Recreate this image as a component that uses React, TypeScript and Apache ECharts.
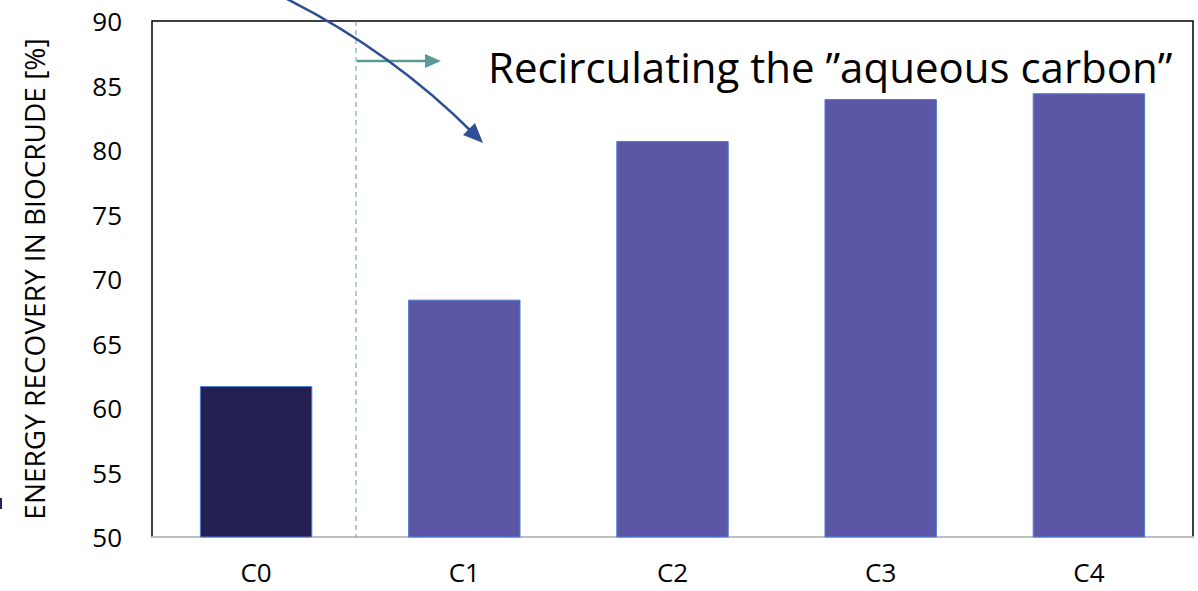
import React, { useEffect, useRef } from "react";
import * as echarts from "echarts";

const categories = ["C0", "C1", "C2", "C3", "C4"];
const values = [61.7, 68.4, 80.7, 83.95, 84.4];
const barColors = ["#231f52", "#5b57a6", "#5b57a6", "#5b57a6", "#5b57a6"];
const yTicks = { min: 50, max: 90, interval: 5 };
const yAxisTitle = "ENERGY RECOVERY IN BIOCRUDE [%]";
const annotation = "Recirculating the \u201daqueous carbon\u201d";

const FONT = "'Open Sans', 'Noto Sans', sans-serif";

export default function App() {
  const ref = useRef<HTMLDivElement>(null);
  useEffect(() => {
    document.body.style.margin = "0";
    const chart = echarts.init(ref.current!, null, { renderer: "svg" });
    chart.setOption({
      animation: false,
      grid: {
        left: 152,
        top: 21,
        right: 5,
        bottom: 54,
        show: true,
        borderColor: "#000",
        borderWidth: 1.5,
        backgroundColor: "transparent",
      },
      xAxis: {
        type: "category",
        data: categories,
        axisLine: { show: true, lineStyle: { color: "#bfbfbf", width: 2 } },
        axisTick: { show: false },
        axisLabel: {
          color: "#000",
          fontSize: 26,
          lineHeight: 26,
          fontFamily: FONT,
          margin: 22,
        },
      },
      yAxis: {
        type: "value",
        min: yTicks.min,
        max: yTicks.max,
        interval: yTicks.interval,
        splitLine: { show: false },
        axisLine: { show: false },
        axisTick: { show: false },
        axisLabel: { color: "#000", fontSize: 26, fontFamily: FONT, margin: 30 },
        name: yAxisTitle,
        nameLocation: "middle",
        nameRotate: 90,
        nameGap: 104,
        nameTextStyle: { color: "#000", fontSize: 28, fontFamily: FONT },
      },
      series: [
        {
          type: "bar",
          barWidth: "54%",
          data: values.map((v, i) => ({
            value: v,
            itemStyle: { color: barColors[i], borderColor: "#4a7fd0", borderWidth: 1 },
          })),
        },
      ],
      graphic: [
        {
          type: "line",
          shape: { x1: 356, y1: 21, x2: 356, y2: 537 },
          style: { stroke: "#5a9a96", lineWidth: 1, lineDash: [5, 4] },
          z: 5,
        },
        {
          type: "line",
          shape: { x1: 357, y1: 61, x2: 428, y2: 61 },
          style: { stroke: "#5a9a96", lineWidth: 2.5 },
          z: 6,
        },
        {
          type: "polygon",
          shape: { points: [[441, 61], [425, 54], [425, 68]] },
          style: { fill: "#5a9a96" },
          z: 6,
        },
        {
          type: "text",
          x: 488,
          y: 66,
          style: {
            text: annotation,
            fill: "#000",
            fontSize: 42,
            fontFamily: FONT,
            verticalAlign: "middle",
          },
          z: 6,
        },
        {
          type: "bezierCurve",
          shape: { x1: 285, y1: -2, cpx1: 391, cpy1: 51, x2: 474, y2: 134 },
          style: { stroke: "#2f4f95", lineWidth: 2.5, fill: "none" },
          z: 7,
        },
        {
          type: "polygon",
          shape: { points: [[483, 143], [463, 135], [475, 123]] },
          style: { fill: "#2f4f95" },
          z: 7,
        },
        {
          type: "rect",
          shape: { x: 0, y: 498, width: 2, height: 11 },
          style: { fill: "#23205a" },
        },
      ],
    });
    return () => chart.dispose();
  }, []);
  return <div ref={ref} style={{ width: 1198, height: 591 }} />;
}
